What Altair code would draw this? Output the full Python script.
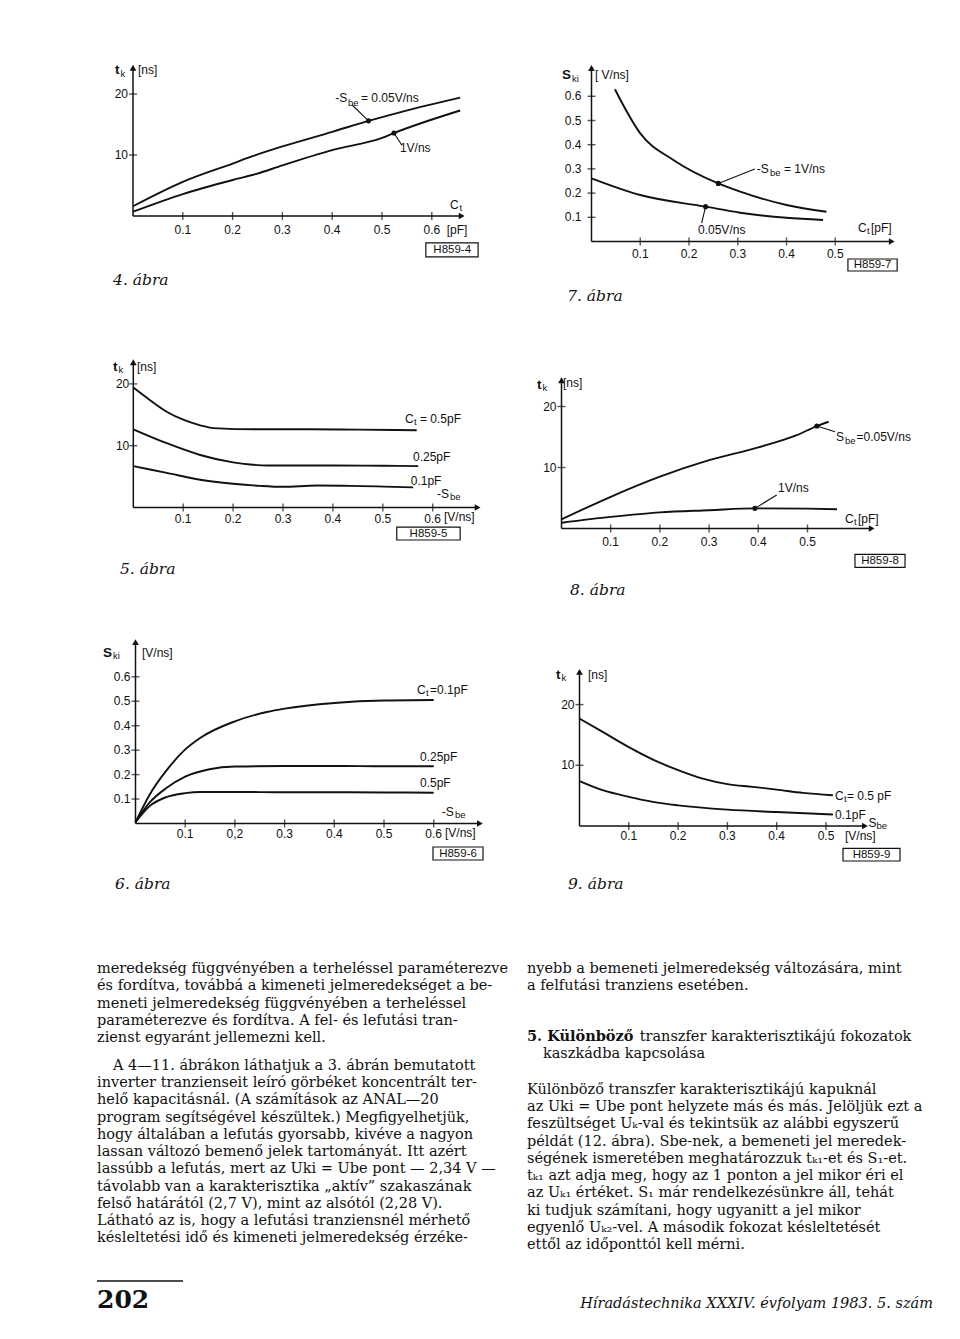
import altair as alt
import pandas as pd

W, H = 944, 1323
SANS = "Liberation Sans"
SERIF = "DejaVu Serif"
INK = "#111111"

# ---------------- Fig. 4 : t_k [ns] vs C_t [pF] ----------------
f4_ct_a = [0.0, 0.1, 0.2, 0.24, 0.3, 0.4, 0.473, 0.536, 0.657]
f4_tk_a = [1.6, 5.6, 8.6, 9.8, 11.4, 13.8, 15.6, 17.0, 19.4]      # -Sbe = 0.05 V/ns
f4_ct_b = [0.0, 0.1, 0.2, 0.248, 0.3, 0.4, 0.5, 0.524, 0.657]
f4_tk_b = [0.7, 3.6, 5.9, 6.9, 8.3, 10.8, 12.8, 13.6, 17.3]       # 1 V/ns

# ---------------- Fig. 7 : S_ki [V/ns] vs C_t [pF] ----------------
f7_ct_a = [0.048, 0.1, 0.168, 0.26, 0.305, 0.4, 0.482]
f7_s_a = [0.629, 0.447, 0.337, 0.24, 0.206, 0.151, 0.123]         # -Sbe = 1 V/ns
f7_ct_b = [0.0, 0.1, 0.234, 0.305, 0.4, 0.475]
f7_s_b = [0.261, 0.192, 0.144, 0.119, 0.098, 0.089]               # 0.05 V/ns

# ---------------- Fig. 5 : t_k [ns] vs -S_be [V/ns] ----------------
f5_s_a = [0.0, 0.033, 0.067, 0.1, 0.134, 0.16, 0.25, 0.35, 0.45, 0.568]
f5_tk_a = [19.4, 17.4, 15.5, 14.2, 13.3, 12.85, 12.65, 12.65, 12.6, 12.5]  # Ct = 0.5 pF
f5_s_b = [0.0, 0.067, 0.134, 0.2, 0.234, 0.27, 0.3, 0.4, 0.5, 0.571]
f5_tk_b = [12.65, 10.4, 8.5, 7.3, 6.95, 6.8, 6.8, 6.8, 6.75, 6.7]        # 0.25 pF
f5_s_c = [0.0, 0.067, 0.134, 0.2, 0.254, 0.3, 0.367, 0.434, 0.561]
f5_tk_c = [6.7, 5.6, 4.5, 3.85, 3.5, 3.35, 3.55, 3.5, 3.25]              # 0.1 pF

# ---------------- Fig. 8 : t_k [ns] vs C_t [pF] ----------------
f8_ct_a = [0.0, 0.1, 0.2, 0.3, 0.4, 0.478, 0.519, 0.543]
f8_tk_a = [1.5, 5.2, 8.5, 11.2, 13.3, 15.3, 16.8, 17.5]           # Sbe = 0.05 V/ns
f8_ct_b = [0.0, 0.1, 0.2, 0.3, 0.393, 0.5, 0.56]
f8_tk_b = [0.95, 1.9, 2.65, 3.0, 3.3, 3.25, 3.15]                 # 1 V/ns

# ---------------- Fig. 6 : S_ki [V/ns] vs -S_be [V/ns] ----------------
f6_s_a = [0.0, 0.029, 0.062, 0.1, 0.13, 0.2, 0.264, 0.3, 0.4, 0.5, 0.6]
f6_k_a = [0.005, 0.12, 0.216, 0.303, 0.35, 0.418, 0.456, 0.47, 0.493, 0.503, 0.505]    # 0.1 pF
f6_s_b = [0.0, 0.029, 0.062, 0.1, 0.149, 0.2, 0.3, 0.4, 0.5, 0.6]
f6_k_b = [0.005, 0.087, 0.145, 0.192, 0.222, 0.233, 0.235, 0.235, 0.234, 0.234]        # 0.25 pF
f6_s_c = [0.0, 0.029, 0.062, 0.1, 0.13, 0.2, 0.3, 0.4, 0.5, 0.6]
f6_k_c = [0.005, 0.072, 0.108, 0.124, 0.129, 0.129, 0.128, 0.128, 0.127, 0.126]        # 0.5 pF

# ---------------- Fig. 9 : t_k [ns] vs S_be [V/ns] ----------------
f9_s_a = [0.0, 0.047, 0.1, 0.149, 0.2, 0.25, 0.3, 0.351, 0.4, 0.453, 0.514]
f9_tk_a = [17.7, 15.5, 13.0, 10.95, 9.2, 7.8, 6.9, 6.45, 6.0, 5.45, 5.07]   # 0.5 pF
f9_s_b = [0.0, 0.047, 0.1, 0.149, 0.2, 0.3, 0.4, 0.514]
f9_tk_b = [7.4, 5.9, 4.8, 3.97, 3.4, 2.7, 2.3, 1.9]                         # 0.1 pF

tick6 = [0.1, 0.2, 0.3, 0.4, 0.5, 0.6]
tick5 = [0.1, 0.2, 0.3, 0.4, 0.5]
tick_ns = [10, 20]
F1 = "format(datum.v, '.1f')"
FD = "format(datum.v, 'd')"

# annotation text (data units of each figure): (x, y, text, kind)
P = {}
P[4] = dict(
    frame=(133, 216, 498, 6.1, 0.66, 24.3), curves=[(f4_ct_a, f4_tk_a), (f4_ct_b, f4_tk_b)],
    xticks=tick6, yticks=tick_ns, xfmt=F1, yfmt=FD, ypad=5, xdy=14,
    texts=[(-0.036, 23.9, "t", "name"), (-0.0251, 23.3, "k", "sub"), (0.010, 23.9, "[ns]", "main"),
           (0.406, 19.3, "-S", "main"), (0.4317, 18.6, "be", "sub"), (0.4578, 19.3, "= 0.05V/ns", "main"),
           (0.536, 11.1, "1V/ns", "main"),
           (0.6365, 1.8, "C", "main"), (0.6556, 1.3, "t", "sub"), (0.630, -2.3, "[pF]", "main"),
           (0.641, -5.55, "H859-4", "box"), (-0.04, -10.5, "4. ábra", "cap")],
    dots=[(0.473, 15.6), (0.524, 13.6)],
    leaders=[(0.473, 15.6, 0.44, 18.2), (0.524, 13.6, 0.54, 11.6)],
    box=(0.588, -4.4, 0.693, -6.7))
P[7] = dict(
    frame=(591.5, 241.5, 487.5, 242, 0.616, 0.717), curves=[(f7_ct_a, f7_s_a), (f7_ct_b, f7_s_b)],
    xticks=tick5, yticks=tick6, xfmt=F1, yfmt=F1, ypad=10, xdy=12,
    texts=[(-0.0605, 0.688, "S", "name"), (-0.040, 0.671, "ki", "sub"), (0.007, 0.688, "[ V/ns]", "main"),
           (0.339, 0.2996, "-S", "main"), (0.3662, 0.283, "be", "sub"), (0.3948, 0.2996, "= 1V/ns", "main"),
           (0.2185, 0.0475, "0.05V/ns", "main"),
           (0.5467, 0.0558, "C", "main"), (0.5651, 0.0434, "t", "sub"), (0.5733, 0.0558, "[pF]", "main"),
           (0.5765, -0.097, "H859-7", "box"), (-0.05, -0.225, "7. ábra", "cap")],
    dots=[(0.26, 0.24), (0.234, 0.144)],
    leaders=[(0.26, 0.24, 0.335, 0.2996), (0.234, 0.144, 0.226, 0.0764)],
    box=(0.526, -0.0723, 0.627, -0.1219))
P[5] = dict(
    frame=(133.3, 507.5, 499, 6.18, 0.69, 23.5), curves=[(f5_s_a, f5_tk_a), (f5_s_b, f5_tk_b), (f5_s_c, f5_tk_c)],
    xticks=tick6, yticks=tick_ns, xfmt=F1, yfmt=FD, ypad=4, xdy=11,
    texts=[(-0.0407, 22.73, "t", "name"), (-0.0297, 22.25, "k", "sub"), (0.0074, 22.73, "[ns]", "main"),
           (0.5445, 14.32, "C", "main"), (0.5625, 13.83, "t", "sub"), (0.5745, 14.32, "= 0.5pF", "main"),
           (0.5605, 8.17, "0.25pF", "main"), (0.556, 4.29, "0.1pF", "main"),
           (0.6086, 2.18, "-S", "main"), (0.6347, 1.70, "be", "sub"),
           (0.6227, -1.54, "[V/ns]", "main"),
           (0.5915, -4.21, "H859-5", "box"), (-0.0267, -9.95, "5. ábra", "cap")],
    dots=[], leaders=[],
    box=(0.528, -3.16, 0.655, -5.26))
P[8] = dict(
    frame=(561.5, 528.5, 492, 6.1, 0.6305, 24.3), curves=[(f8_ct_a, f8_tk_a), (f8_ct_b, f8_tk_b)],
    xticks=tick5, yticks=tick_ns, xfmt=F1, yfmt=FD, ypad=5, xdy=13,
    texts=[(-0.0498, 23.52, "t", "name"), (-0.0386, 23.03, "k", "sub"), (0.003, 23.85, "[ns]", "main"),
           (0.558, 15.0, "S", "main"), (0.5762, 14.34, "be", "sub"), (0.5996, 15.0, "=0.05V/ns", "main"),
           (0.44, 6.64, "1V/ns", "main"),
           (0.5762, 1.56, "C", "main"), (0.5945, 1.07, "t", "sub"), (0.6026, 1.56, "[pF]", "main"),
           (0.6474, -5.3, "H859-8", "box"), (0.0173, -10.08, "8. ábra", "cap")],
    dots=[(0.519, 16.8), (0.393, 3.3)],
    leaders=[(0.519, 16.8, 0.5559, 15.87), (0.393, 3.3, 0.4374, 5.49)],
    box=(0.5965, -4.23, 0.6982, -6.36))
P[6] = dict(
    frame=(135.5, 823.5, 497, 244.5, 0.693, 0.742), curves=[(f6_s_a, f6_k_a), (f6_s_b, f6_k_b), (f6_s_c, f6_k_c)],
    xticks=tick6, yticks=tick6, xfmt="datum.v == 0.2 ? '0,2' : " + F1, yfmt=F1, ypad=5, xdy=10,
    texts=[(-0.0654, 0.6973, "S", "name"), (-0.0453, 0.685, "ki", "sub"), (0.0131, 0.6973, "[V/ns]", "main"),
           (0.5664, 0.546, "C", "main"), (0.5845, 0.5337, "t", "sub"), (0.5926, 0.546, "=0.1pF", "main"),
           (0.5724, 0.2732, "0.25pF", "main"), (0.5724, 0.1644, "0.5pF", "main"),
           (0.616, 0.0483, "-S", "main"), (0.6429, 0.0348, "be", "sub"),
           (0.6227, -0.04, "[V/ns]", "main"),
           (0.6489, -0.1227, "H859-6", "box"), (-0.0412, -0.2474, "6. ábra", "cap")],
    dots=[], leaders=[],
    box=(0.5986, -0.0961, 0.6992, -0.1493))
P[9] = dict(
    frame=(579.5, 826, 493, 6.07, 0.579, 25.4), curves=[(f9_s_a, f9_tk_a), (f9_s_b, f9_tk_b)],
    xticks=tick5, yticks=tick_ns, xfmt=F1, yfmt=FD, ypad=5, xdy=10,
    texts=[(-0.0477, 24.88, "t", "name"), (-0.0365, 24.38, "k", "sub"), (0.0172, 24.88, "[ns]", "main"),
           (0.5183, 4.94, "C", "main"), (0.5365, 4.45, "t", "sub"), (0.5426, 4.94, "= 0.5 pF", "main"),
           (0.5183, 1.81, "0.1pF", "main"),
           (0.5862, 0.54, "S", "main"), (0.6024, 0.05, "be", "sub"),
           (0.5385, -1.65, "[V/ns]", "main"),
           (0.5923, -4.72, "H859-9", "box"), (-0.0233, -9.56, "9. ábra", "cap")],
    dots=[], leaders=[],
    box=(0.5345, -3.67, 0.6501, -5.77))

# ---------------- body text ----------------
left_p1 = [
    "meredekség függvényében a terheléssel paraméterezve",
    "és fordítva, továbbá a kimeneti jelmeredekséget a be-",
    "meneti jelmeredekség függvényében a terheléssel",
    "paraméterezve és fordítva. A fel- és lefutási tran-",
    "zienst egyaránt jellemezni kell.",
]
left_p2 = [
    "A 4—11. ábrákon láthatjuk a 3. ábrán bemutatott",
    "inverter tranzienseit leíró görbéket koncentrált ter-",
    "helő kapacitásnál. (A számítások az ANAL—20",
    "program segítségével készültek.) Megfigyelhetjük,",
    "hogy általában a lefutás gyorsabb, kivéve a nagyon",
    "lassan változó bemenő jelek tartományát. Itt azért",
    "lassúbb a lefutás, mert az Uki = Ube pont — 2,34 V —",
    "távolabb van a karakterisztika „aktív” szakaszának",
    "felső határától (2,7 V), mint az alsótól (2,28 V).",
    "Látható az is, hogy a lefutási tranziensnél mérhető",
    "késleltetési idő és kimeneti jelmeredekség érzéke-",
]
right_p1 = [
    "nyebb a bemeneti jelmeredekség változására, mint",
    "a felfutási tranziens esetében.",
]
head_bold = "5. Különböző"
head_rest = "transzfer karakterisztikájú fokozatok"
head_line2 = "kaszkádba kapcsolása"
right_p2 = [
    "Különböző transzfer karakterisztikájú kapuknál",
    "az Uki = Ube pont helyzete más és más. Jelöljük ezt a",
    "feszültséget Uₖ-val és tekintsük az alábbi egyszerű",
    "példát (12. ábra). Sbe-nek, a bemeneti jel meredek-",
    "ségének ismeretében meghatározzuk tₖ₁-et és S₁-et.",
    "tₖ₁ azt adja meg, hogy az 1 ponton a jel mikor éri el",
    "az Uₖ₁ értéket. S₁ már rendelkezésünkre áll, tehát",
    "ki tudjuk számítani, hogy ugyanitt a jel mikor",
    "egyenlő Uₖ₂-vel. A második fokozat késleltetését",
    "ettől az időponttól kell mérni.",
]
footer_text = "Híradástechnika XXXIV. évfolyam 1983. 5. szám"
page_no = "202"


def build(p):
    ox, oy, sx, sy, xmax, ymax = p["frame"]
    xs = alt.Scale(domain=[0, xmax], range=[ox - 8, ox - 8 + sx * xmax], nice=False, zero=False)
    ys = alt.Scale(domain=[0, ymax], range=[oy - 8, oy - 8 - sy * ymax], nice=False, zero=False)

    def X(f):
        return alt.X(f, type="quantitative", scale=xs, axis=None)

    def Y(f):
        return alt.Y(f, type="quantitative", scale=ys, axis=None)

    layers = []
    # axis lines
    ax = pd.DataFrame({"x": [0.0], "y": [0.0], "xe": [xmax], "ye": [ymax]})
    layers.append(alt.Chart(ax).mark_rule(color=INK, strokeWidth=1.5).encode(x=X("x"), x2="xe:Q", y=Y("y")))
    layers.append(alt.Chart(ax).mark_rule(color=INK, strokeWidth=1.5).encode(x=X("x"), y=Y("y"), y2="ye:Q"))

    rows = []
    for i, (xv, yv) in enumerate(p["curves"]):
        rows += [dict(x=a, y=b, s=i) for a, b in zip(xv, yv)]
    layers.append(alt.Chart(pd.DataFrame(rows)).mark_line(
        color=INK, strokeWidth=1.9, interpolate="monotone").encode(x=X("x"), y=Y("y"), detail="s:N"))

    # crossing ticks and tick labels
    xt = pd.DataFrame({"v": p["xticks"], "z": [0] * len(p["xticks"])})
    yt = pd.DataFrame({"v": p["yticks"], "z": [0] * len(p["yticks"])})
    layers.append(alt.Chart(xt).mark_tick(orient="vertical", size=8, thickness=1.4, color=INK).encode(x=X("v"), y=Y("z")))
    layers.append(alt.Chart(yt).mark_tick(orient="horizontal", size=8, thickness=1.4, color=INK).encode(x=X("z"), y=Y("v")))
    layers.append(alt.Chart(xt).transform_calculate(label=p["xfmt"]).mark_text(
        align="center", baseline="middle", dy=p["xdy"], font=SANS, fontSize=12, color=INK).encode(
        x=X("v"), y=Y("z"), text="label:N"))
    layers.append(alt.Chart(yt).transform_calculate(label=p["yfmt"]).mark_text(
        align="right", baseline="middle", dx=-p["ypad"], font=SANS, fontSize=12, color=INK).encode(
        x=X("z"), y=Y("v"), text="label:N"))

    # arrow heads
    layers.append(alt.Chart(pd.DataFrame({"x": [xmax], "y": [0]})).mark_point(
        shape="triangle-right", filled=True, size=45, color=INK, opacity=1).encode(x=X("x"), y=Y("y")))
    layers.append(alt.Chart(pd.DataFrame({"x": [0], "y": [ymax]})).mark_point(
        shape="triangle-up", filled=True, size=45, color=INK, opacity=1).encode(x=X("x"), y=Y("y")))

    if p["dots"]:
        d = pd.DataFrame(p["dots"], columns=["x", "y"])
        layers.append(alt.Chart(d).mark_point(filled=True, size=26, color=INK, opacity=1).encode(x=X("x"), y=Y("y")))
    if p["leaders"]:
        d = pd.DataFrame(p["leaders"], columns=["x", "y", "x2", "y2"])
        layers.append(alt.Chart(d).mark_rule(color=INK, strokeWidth=1.1).encode(
            x=X("x"), y=Y("y"), x2="x2:Q", y2="y2:Q"))
    bx = pd.DataFrame([p["box"]], columns=["x", "y", "x2", "y2"])
    layers.append(alt.Chart(bx).mark_rect(fill="white", fillOpacity=0, stroke=INK, strokeWidth=1.2).encode(
        x=X("x"), y=Y("y"), x2="x2:Q", y2="y2:Q"))

    t = pd.DataFrame(p["texts"], columns=["x", "y", "text", "kind"])
    styles = {
        "name": dict(font=SANS, fontSize=13.5, fontWeight="bold", align="left"),
        "main": dict(font=SANS, fontSize=12, align="left"),
        "sub": dict(font=SANS, fontSize=9.5, align="left"),
        "box": dict(font=SANS, fontSize=11.5, align="center"),
        "cap": dict(font=SERIF, fontSize=15.5, fontStyle="italic", align="left"),
    }
    for kind, st in styles.items():
        sub = t[t["kind"] == kind]
        if len(sub):
            layers.append(alt.Chart(sub).mark_text(baseline="middle", color=INK, **st).encode(
                x=X("x"), y=Y("y"), text="text:N"))
    return alt.layer(*layers)


panels = [build(P[k]) for k in (4, 7, 5, 8, 6, 9)]

# body text rows
body = []


def add(col, start, lines, indent_first=False, indent_rest=False, shift=0.0):
    for i, s in enumerate(lines):
        ind = 1 if ((i == 0 and indent_first) or (i > 0 and indent_rest)) else 0
        body.append(dict(col=col, row=start + i, text=s, ind=ind, shift=shift))


add(0, 0, left_p1)
add(0, 5.62, left_p2, indent_first=True)
add(1, 0, right_p1)
add(1, 3.95, [head_rest], shift=0.262)
add(1, 4.95, [head_line2], indent_first=True)
add(1, 7.0, right_p2)
bdf = pd.DataFrame(body)

bxs = alt.Scale(domain=[0, 1], range=[89, 519], nice=False, zero=False)
bys = alt.Scale(domain=[0, 20], range=[961, 1306], nice=False, zero=False)


def BX(f):
    return alt.X(f, type="quantitative", scale=bxs, axis=None)


def BY(f):
    return alt.Y(f, type="quantitative", scale=bys, axis=None)


body_text = alt.Chart(bdf).transform_calculate(xpos="datum.col + datum.ind * 0.037 + datum.shift").mark_text(
    align="left", baseline="middle", font=SERIF, fontSize=14.5, color=INK).encode(
    x=BX("xpos"), y=BY("row"), text="text:N")
head = alt.Chart(pd.DataFrame({"x": [1.0], "row": [3.95], "text": [head_bold]})).mark_text(
    align="left", baseline="middle", font=SERIF, fontSize=14.5, fontWeight="bold", color=INK).encode(
    x=BX("x"), y=BY("row"), text="text:N")
foot = alt.Chart(pd.DataFrame({"x": [1.944], "row": [19.42], "text": [footer_text]})).mark_text(
    align="right", baseline="middle", font=SERIF, fontSize=14.5, fontStyle="italic", color=INK).encode(
    x=BX("x"), y=BY("row"), text="text:N")
pnum = alt.Chart(pd.DataFrame({"x": [0], "row": [19.2], "text": [page_no]})).mark_text(
    align="left", baseline="middle", font=SERIF, fontSize=25, fontWeight="bold", color=INK).encode(
    x=BX("x"), y=BY("row"), text="text:N")
prule = alt.Chart(pd.DataFrame({"x": [0], "x2": [0.2], "row": [18.09]})).mark_rule(color=INK, strokeWidth=1.5).encode(
    x=BX("x"), x2="x2:Q", y=BY("row"))
body_layer = alt.layer(body_text, head, foot, pnum, prule)

chart = alt.layer(*panels, body_layer).resolve_scale(x="independent", y="independent").properties(
    width=W, height=H, padding=0, background="white").configure_view(strokeWidth=0)

chart.save("out.html", embed_options={"renderer": "svg", "actions": False})
